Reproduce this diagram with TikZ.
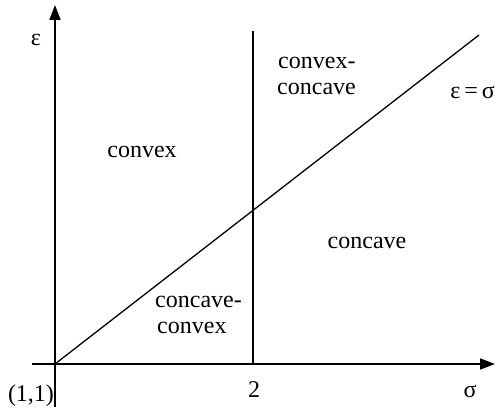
\documentclass[tikz,border=0pt]{standalone}
\usepackage{fontspec}
\setmainfont{Liberation Serif}
\usetikzlibrary{arrows.meta}
\begin{document}
\begin{tikzpicture}[x=1pt,y=1pt,
  axisline/.style={line width=1.8pt,-{Triangle[length=15pt,width=11pt]}},
  thinline/.style={line width=1.3pt},
  lbl/.style={inner sep=0pt,font=\fontsize{24}{28}\selectfont}]
\useasboundingbox (0,0) rectangle (495,407);
\coordinate (O) at (55,43);
\coordinate (vb) at (55,0);
\coordinate (vt) at (55,402);
\coordinate (hl) at (32,43);
\coordinate (hr) at (495,43);
\coordinate (tb) at (253,43);
\coordinate (tt) at (253,376);
\coordinate (de) at (479,372);
\draw[axisline] (vb) -- (vt);
\draw[axisline] (hl) -- (hr);
\draw[thinline] (tb) -- (tt);
\draw[thinline] (O) -- (de);
\node[lbl] (eps) at (36,367) {ε};
\node[lbl] (sig) at (470,16) {σ};
\node[lbl] (one) at (31,11) {(1,1)};
\node[lbl] (two) at (254,17) {2};
\node[lbl,anchor=east] (eq) at (495,315) {ε\,=\,σ};
\node[lbl] (cvx) at (142,255) {convex};
\node[lbl,anchor=west] (cc1) at (278,344) {convex-};
\node[lbl,anchor=west] (cc2) at (277,318) {concave};
\node[lbl] (ccv) at (367,164) {concave};
\node[lbl,anchor=west] (cv1) at (155,105) {concave-};
\node[lbl,anchor=west] (cv2) at (157,79) {convex};
\end{tikzpicture}
\end{document}
